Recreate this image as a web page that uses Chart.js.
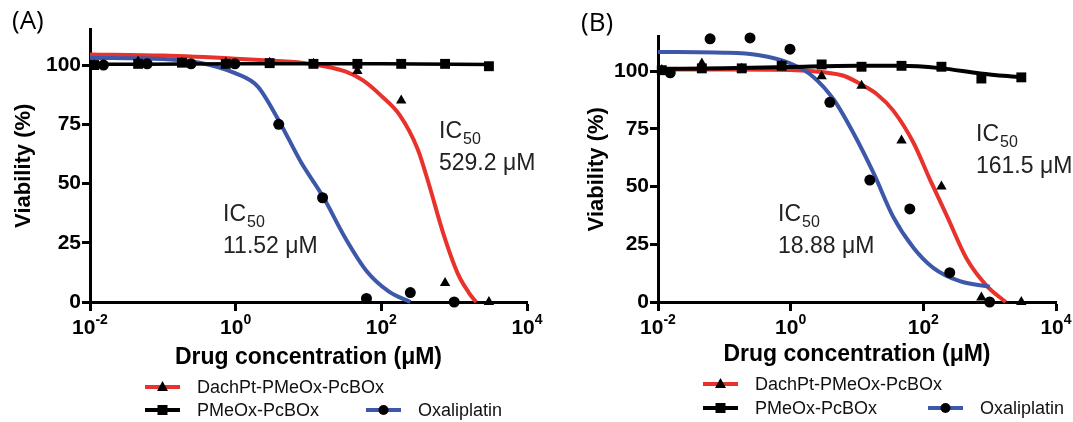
<!DOCTYPE html>
<html>
<head>
<meta charset="utf-8">
<script src="https://cdn.jsdelivr.net/npm/chart.js@4.4.0/dist/chart.umd.min.js"></script>
<style>
  body { margin: 0; background: #fff; width: 1073px; height: 422px; overflow: hidden; position: relative; }
  canvas { position: absolute; top: 0; }
  #chartA { left: 0; }
  #chartB { left: 545px; }
</style>
</head>
<body>
<canvas id="chartA" width="545" height="422"></canvas>
<canvas id="chartB" width="528" height="422"></canvas>
<script>
// series + axis text
const seriesNames = ['DachPt-PMeOx-PcBOx', 'PMeOx-PcBOx', 'Oxaliplatin'];
const seriesColors = ['#e8322b', '#000000', '#3d57a9'];
const xTickValues = [0.01, 1, 100, 10000];
const xTickExps = ['-2', '0', '2', '4'];
const yTickValues = [0, 25, 50, 75, 100];

// concentrations (uM) of the measured points
const concPolymer = [0.0114, 0.0458, 0.183, 0.732, 2.93, 11.7, 46.9, 187.5, 750, 3000];
const concOxali = [0.0153, 0.061, 0.244, 0.977, 3.9, 15.6, 62.5, 250, 1000];

// panel A measured viability (%)
const dachA = [100, 101.5, 101, 101, 101, 100.5, 97.5, 85, 8, 0];
const pmeoxA = [100, 100.5, 101, 100.5, 100.8, 100.5, 100.5, 100.5, 100.5, 99.5];
const oxaliA = [100, 100.5, 100.5, 100.5, 75, 44, 1.5, 4, 0];

// panel A fitted curves
const dachFitXA = [0.01, 0.1, 1, 3.2, 10, 32, 56, 100, 178, 316, 447, 708, 1122, 1585, 2000];
const dachFitYA = [104.5, 104, 102.7, 101.8, 100.6, 97.3, 93.5, 87, 79, 64.5, 50, 29, 12, 4, 0];
const pmeoxFitXA = [0.0114, 1, 100, 3000];
const pmeoxFitYA = [100.3, 100.5, 100.5, 100.2];
const oxaliFitXA = [0.01, 0.1, 0.32, 1, 2, 4, 7.9, 15.8, 32, 63, 126, 251];
const oxaliFitYA = [103, 102.5, 101, 96.5, 91, 76, 59, 44.5, 27, 13, 4.5, 0];

// panel B measured viability (%)
const dachB = [100.5, 103.3, 101, 102.5, 97.8, 93.7, 70, 50, 1.9, 0];
const pmeoxB = [100.4, 101.2, 101.2, 102.3, 102.9, 101.9, 102.3, 101.9, 96.8, 97.3];
const oxaliB = [99.3, 114, 114.4, 109.5, 86.5, 52.8, 40.3, 12.7, 0];

// panel B fitted curves
const dachFitXB = [0.01, 0.1, 1, 3.2, 6.3, 12, 20, 35, 71, 126, 229, 457, 912, 1740];
const dachFitYB = [100.7, 100.7, 100.5, 99.5, 98, 94, 90, 83, 69, 53, 37, 18.4, 6.9, 0];
const pmeoxFitXB = [0.0114, 0.1, 1, 10, 45, 178, 724, 3000];
const pmeoxFitYB = [101, 101.2, 101.8, 102.3, 102.3, 101.3, 99, 97.3];
const oxaliFitXB = [0.01, 0.1, 0.32, 1, 2.2, 4.5, 8.9, 17.8, 35, 71, 141, 355, 1000];
const oxaliFitYB = [108.3, 108, 107, 103.3, 97.5, 87.5, 73, 55.8, 37, 23.5, 14.8, 9, 6.6];

// IC50 annotations
const icTextA = ['529.2', '11.52'];
const icTextB = ['161.5', '18.88'];

const FONT = '"Liberation Sans", Arial, sans-serif';
Chart.defaults.font.family = FONT;

const toPts = (xs, ys) => xs.map((x, i) => ({ x: x, y: ys[i] }));

function markerSet(xs, ys, style, r) {
  return {
    data: toPts(xs, ys), showLine: false, pointStyle: style, pointRadius: r,
    pointBackgroundColor: '#000', pointBorderWidth: 0, clip: false
  };
}
function curveSet(xs, ys, color, w) {
  return {
    data: toPts(xs, ys), showLine: true, pointRadius: 0, borderColor: color,
    borderWidth: w, cubicInterpolationMode: 'monotone', clip: false
  };
}

function drawMarker(ctx, style, x, y) {
  ctx.beginPath();
  if (style === 'triangle') {
    ctx.moveTo(x, y - 6); ctx.lineTo(x + 5.5, y + 4); ctx.lineTo(x - 5.5, y + 4); ctx.closePath();
  } else if (style === 'rect') {
    ctx.rect(x - 5, y - 5, 10, 10);
  } else {
    ctx.arc(x, y, 5, 0, Math.PI * 2);
  }
  ctx.fill();
}

const overlay = {
  id: 'overlay',
  afterDraw(chart) {
    const p = chart.options.plugins.overlay;
    const ctx = chart.ctx;
    const xs = chart.scales.x;
    ctx.save();
    ctx.fillStyle = '#000';

    // panel letter
    ctx.font = '26px "Open Sans", ' + FONT;
    ctx.textBaseline = 'middle';
    ctx.fillText(p.letter, p.letterX, p.letterY);

    // x tick labels 10^n
    ctx.textBaseline = 'alphabetic';
    xTickValues.forEach((v, i) => {
      ctx.font = 'bold 21px ' + FONT;
      const w1 = ctx.measureText('10').width;
      ctx.font = 'bold 14px ' + FONT;
      const w2 = ctx.measureText(xTickExps[i]).width;
      const left = xs.getPixelForValue(v) - (w1 + w2) / 2;
      ctx.font = 'bold 21px ' + FONT;
      ctx.fillText('10', left, 334);
      ctx.font = 'bold 14px ' + FONT;
      ctx.fillText(xTickExps[i], left + w1, 324);
    });

    // IC50 labels
    ctx.fillStyle = '#222';
    p.ic.forEach(a => {
      ctx.font = '23px ' + FONT;
      ctx.fillText('IC', a.x, a.y);
      const w = ctx.measureText('IC').width;
      ctx.font = '16px ' + FONT;
      ctx.fillText('50', a.x + w + 1, a.y + 6);
      ctx.font = '23px ' + FONT;
      ctx.fillText(a.text + ' \u03BCM', a.x, a.y + 32);
    });

    // legend
    ctx.font = '18px ' + FONT;
    ctx.textBaseline = 'middle';
    const styles = ['triangle', 'rect', 'circle'];
    p.legend.forEach((it, i) => {
      ctx.strokeStyle = seriesColors[i];
      ctx.lineWidth = 4;
      ctx.beginPath();
      ctx.moveTo(it.x, it.y);
      ctx.lineTo(it.x + 35, it.y);
      ctx.stroke();
      ctx.fillStyle = '#000';
      drawMarker(ctx, styles[i], it.x + 17.5, it.y);
      ctx.fillStyle = '#111';
      ctx.fillText(seriesNames[i], it.x + 52, it.y + 1);
    });
    ctx.restore();
  }
};

function makePanel(id, d, p) {
  const datasets = [
    markerSet(concOxali, d.oxali, 'circle', 5.5),
    markerSet(concPolymer, d.dach, 'triangle', 6),
    markerSet(concPolymer, d.pmeox, 'rect', 7),
    curveSet(d.pmeoxFitX, d.pmeoxFitY, seriesColors[1], p.blackWidth),
    curveSet(d.oxaliFitX, d.oxaliFitY, seriesColors[2], 4),
    curveSet(d.dachFitX, d.dachFitY, seriesColors[0], 4)
  ];
  return new Chart(document.getElementById(id), {
    type: 'scatter',
    data: { datasets: datasets },
    options: {
      responsive: false,
      animation: false,
      events: [],
      layout: { padding: { top: p.top, right: p.right, left: 0, bottom: 0 } },
      scales: {
        x: {
          type: 'logarithmic',
          min: 0.01, max: 10000,
          afterBuildTicks: s => { s.ticks = xTickValues.map(v => ({ value: v, major: true })); },
          afterFit: s => { s.height = 120; },
          ticks: { callback: () => '', autoSkip: false },
          grid: { drawOnChartArea: false, drawTicks: true, tickLength: 9, tickWidth: 3, color: '#000' },
          border: { display: true, width: 3, color: '#000' },
          title: {
            display: true, text: 'Drug concentration (\u03BCM)', color: '#000',
            font: { size: 23, weight: 'bold' }, padding: { top: 0, bottom: p.xTitlePad }
          }
        },
        y: {
          min: 0, max: 115,
          afterBuildTicks: s => { s.ticks = yTickValues.map(v => ({ value: v })); },
          afterFit: s => { s.width = p.yWidth; },
          ticks: { color: '#000', font: { size: 21, weight: 'bold' }, padding: 1 },
          grid: { drawOnChartArea: false, drawTicks: true, tickLength: 8, tickWidth: 3, color: '#000' },
          border: { display: true, width: 3, color: '#000' },
          title: {
            display: true, text: 'Viability (%)', color: '#000',
            font: { size: 22, weight: 'bold' }, padding: { top: p.yTitlePad, bottom: 0 }
          }
        }
      },
      plugins: {
        legend: { display: false },
        tooltip: { enabled: false },
        overlay: p
      }
    },
    plugins: [overlay]
  });
}

makePanel('chartA', {
  dach: dachA, pmeox: pmeoxA, oxali: oxaliA,
  dachFitX: dachFitXA, dachFitY: dachFitYA,
  pmeoxFitX: pmeoxFitXA, pmeoxFitY: pmeoxFitYA,
  oxaliFitX: oxaliFitXA, oxaliFitY: oxaliFitYA
}, {
  top: 29.5, right: 18, yWidth: 90, yTitlePad: 11, xTitlePad: 51, blackWidth: 3.5,
  letter: '(A)', letterX: 12, letterY: 22,
  ic: [{ x: 439, y: 138, text: icTextA[0] }, { x: 223, y: 221, text: icTextA[1] }],
  legend: [{ x: 145, y: 387 }, { x: 145, y: 410 }, { x: 366, y: 410 }]
});

makePanel('chartB', {
  dach: dachB, pmeox: pmeoxB, oxali: oxaliB,
  dachFitX: dachFitXB, dachFitY: dachFitYB,
  pmeoxFitX: pmeoxFitXB, pmeoxFitY: pmeoxFitYB,
  oxaliFitX: oxaliFitXB, oxaliFitY: oxaliFitYB
}, {
  top: 36.5, right: 17, yWidth: 113, yTitlePad: 38.5, xTitlePad: 54, blackWidth: 4,
  letter: '(B)', letterX: 36, letterY: 24,
  ic: [{ x: 431, y: 141, text: icTextB[0] }, { x: 233, y: 221, text: icTextB[1] }],
  legend: [{ x: 158, y: 384 }, { x: 158, y: 408 }, { x: 383, y: 408 }]
});
</script>
</body>
</html>
